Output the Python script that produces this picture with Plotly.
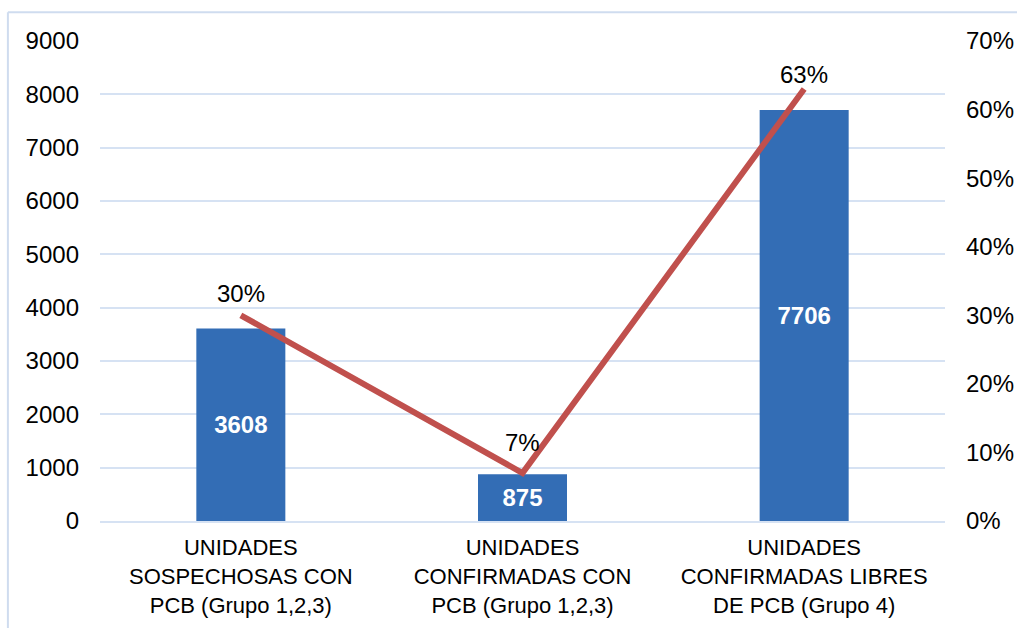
import plotly.graph_objects as go

categories = [
    "UNIDADES<br>SOSPECHOSAS CON<br>PCB (Grupo 1,2,3)",
    "UNIDADES<br>CONFIRMADAS CON<br>PCB (Grupo 1,2,3)",
    "UNIDADES<br>CONFIRMADAS LIBRES<br>DE PCB (Grupo 4)",
]
units = [3608, 875, 7706]
shares = [0.30, 0.07, 0.63]
share_labels = ["30%", "7%", "63%"]
label_shift = [22, 31, 15]

fig = go.Figure()
fig.add_trace(go.Bar(
    x=categories, y=units, width=0.316,
    marker=dict(color="#336db5", line=dict(width=0)),
    text=[str(v) for v in units], textposition="inside", insidetextanchor="middle",
    textfont=dict(color="white", size=24, family="Liberation Sans, Arial", weight="bold"),
    yaxis="y", showlegend=False,
))
fig.add_trace(go.Scatter(
    x=categories, y=shares, mode="lines",
    line=dict(color="#c0504d", width=6),
    yaxis="y2", showlegend=False,
))

annotations = [
    dict(x=c, y=s, xref="x", yref="y2", text=t, showarrow=False, yshift=sh,
         yanchor="middle", font=dict(color="black", size=24, family="Liberation Sans, Arial"))
    for c, s, t, sh in zip(categories, shares, share_labels, label_shift)
]

grid = "#d6e2f3"
fig.update_layout(
    width=1017, height=628,
    margin=dict(l=100, r=72, t=41, b=107, autoexpand=False),
    paper_bgcolor="white", plot_bgcolor="white",
    font=dict(family="Liberation Sans, Arial", size=24, color="black"),
    bargap=0.684,
    annotations=annotations,
    xaxis=dict(
        showgrid=False, showline=True, linecolor=grid, linewidth=2,
        tickfont=dict(family="Liberation Sans, Arial", size=22),
        ticks="", ticklabelstandoff=6, automargin=False,
    ),
    yaxis=dict(
        range=[0, 9000], dtick=1000, showgrid=True, gridcolor=grid, gridwidth=2,
        zeroline=False, showline=False, ticks="", ticklabelstandoff=20,
        tickfont=dict(size=24), automargin=False,
    ),
    yaxis2=dict(
        range=[0, 0.7], dtick=0.1, tickformat=".0%", overlaying="y", side="right",
        showgrid=False, zeroline=False, showline=False, ticks="", ticklabelstandoff=20,
        tickfont=dict(size=24), automargin=False,
    ),
    shapes=[
        dict(type="line", xref="paper", yref="paper", x0=-0.109, x1=1.1, y0=1.06, y1=1.06,
             line=dict(color="#cfdcef", width=2)),
        dict(type="line", xref="paper", yref="paper", x0=-0.109, x1=-0.109, y0=1.06, y1=-0.3,
             line=dict(color="#cfdcef", width=2)),
    ],
)

fig.write_html("out.html")
